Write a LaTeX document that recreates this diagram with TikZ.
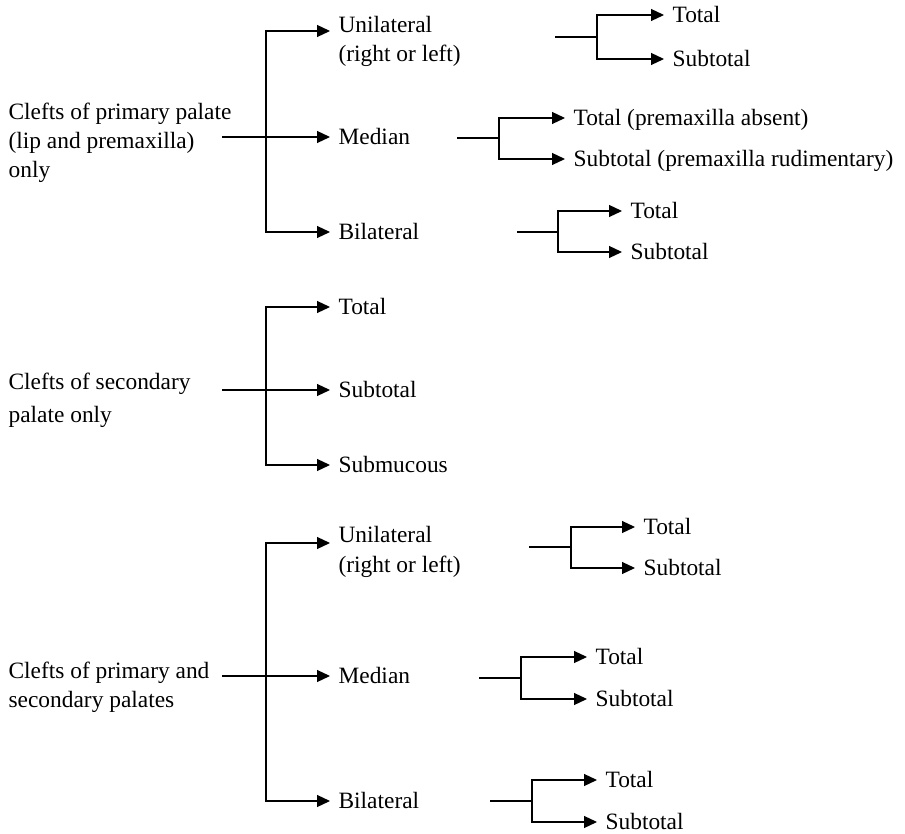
\documentclass[tikz,border=0pt]{standalone}
\usepackage{fontspec}
\setmainfont{Liberation Serif}
\usepackage{tikz}
\usetikzlibrary{arrows.meta}

\begin{document}
\begin{tikzpicture}[x=1pt,y=-1pt,line width=1.2pt,
    font=\fontsize{23.4}{29}\selectfont,
    lbl/.style={anchor=west,inner xsep=8pt,inner ysep=0pt,text height=15.6pt,text depth=0pt},
    blk/.style={anchor=north west,align=left,inner xsep=8pt,inner ysep=0pt},
    arr/.style={-{Triangle[length=13pt,width=12pt]}}]
\useasboundingbox (0,0) rectangle (905,834);

% clefts of primary palate
\node[blk] (prim) at (0,102) {Clefts of primary palate\\(lip and premaxilla)\\only};
\coordinate (prims) at (222,137);
\coordinate (primk) at (266,137);
\node[blk] (uniA) at (330,16) {Unilateral\\(right or left)};
\node[lbl] (medA) at (330,137) {Median};
\node[lbl] (bilA) at (330,232) {Bilateral};
\draw[arr] (prims) -- (medA.west);
\draw[arr] (primk) |- ([yshift=-15pt]uniA.north west);
\draw[arr] (primk) |- (bilA.west);

\coordinate (uniAs) at (555,37);
\coordinate (uniAk) at (597,37);
\node[lbl] (uniAt) at (664,15) {Total};
\node[lbl] (uniAu) at (664,59) {Subtotal};
\draw (uniAs) -- (uniAk);
\draw[arr] (uniAk) |- (uniAt.west);
\draw[arr] (uniAk) |- (uniAu.west);

\coordinate (medAs) at (457,138);
\coordinate (medAk) at (499,138);
\node[lbl] (medAt) at (565,118) {Total (premaxilla absent)};
\node[lbl] (medAu) at (565,159) {Subtotal (premaxilla rudimentary)};
\draw (medAs) -- (medAk);
\draw[arr] (medAk) |- (medAt.west);
\draw[arr] (medAk) |- (medAu.west);

\coordinate (bilAs) at (517,232);
\coordinate (bilAk) at (558,232);
\node[lbl] (bilAt) at (622,211) {Total};
\node[lbl] (bilAu) at (622,252) {Subtotal};
\draw (bilAs) -- (bilAk);
\draw[arr] (bilAk) |- (bilAt.west);
\draw[arr] (bilAk) |- (bilAu.west);

% clefts of secondary palate
\node[blk] (sec) at (0,372) {Clefts of secondary\\[4pt]palate only};
\coordinate (secs) at (222,390);
\coordinate (seck) at (266,390);
\node[lbl] (secT) at (330,307) {Total};
\node[lbl] (secU) at (330,390) {Subtotal};
\node[lbl] (secM) at (330,465) {Submucous};
\draw[arr] (secs) -- (secU.west);
\draw[arr] (seck) |- (secT.west);
\draw[arr] (seck) |- (secM.west);

% clefts of primary and secondary palates
\node[blk] (both) at (0,661) {Clefts of primary and\\secondary palates};
\coordinate (boths) at (222,676);
\coordinate (bothk) at (266,676);
\node[blk] (uniB) at (330,526) {Unilateral\\[1pt](right or left)};
\node[lbl] (medB) at (330,676) {Median};
\node[lbl] (bilB) at (330,801) {Bilateral};
\draw[arr] (boths) -- (medB.west);
\draw[arr] (bothk) |- ([yshift=-17pt]uniB.north west);
\draw[arr] (bothk) |- (bilB.west);

\coordinate (uniBs) at (529,547);
\coordinate (uniBk) at (571,547);
\node[lbl] (uniBt) at (635,527) {Total};
\node[lbl] (uniBu) at (635,568) {Subtotal};
\draw (uniBs) -- (uniBk);
\draw[arr] (uniBk) |- (uniBt.west);
\draw[arr] (uniBk) |- (uniBu.west);

\coordinate (medBs) at (479,678);
\coordinate (medBk) at (521,678);
\node[lbl] (medBt) at (587,657) {Total};
\node[lbl] (medBu) at (587,699) {Subtotal};
\draw (medBs) -- (medBk);
\draw[arr] (medBk) |- (medBt.west);
\draw[arr] (medBk) |- (medBu.west);

\coordinate (bilBs) at (490,801);
\coordinate (bilBk) at (532,801);
\node[lbl] (bilBt) at (597,780) {Total};
\node[lbl] (bilBu) at (597,822) {Subtotal};
\draw (bilBs) -- (bilBk);
\draw[arr] (bilBk) |- (bilBt.west);
\draw[arr] (bilBk) |- (bilBu.west);
\end{tikzpicture}
\end{document}
